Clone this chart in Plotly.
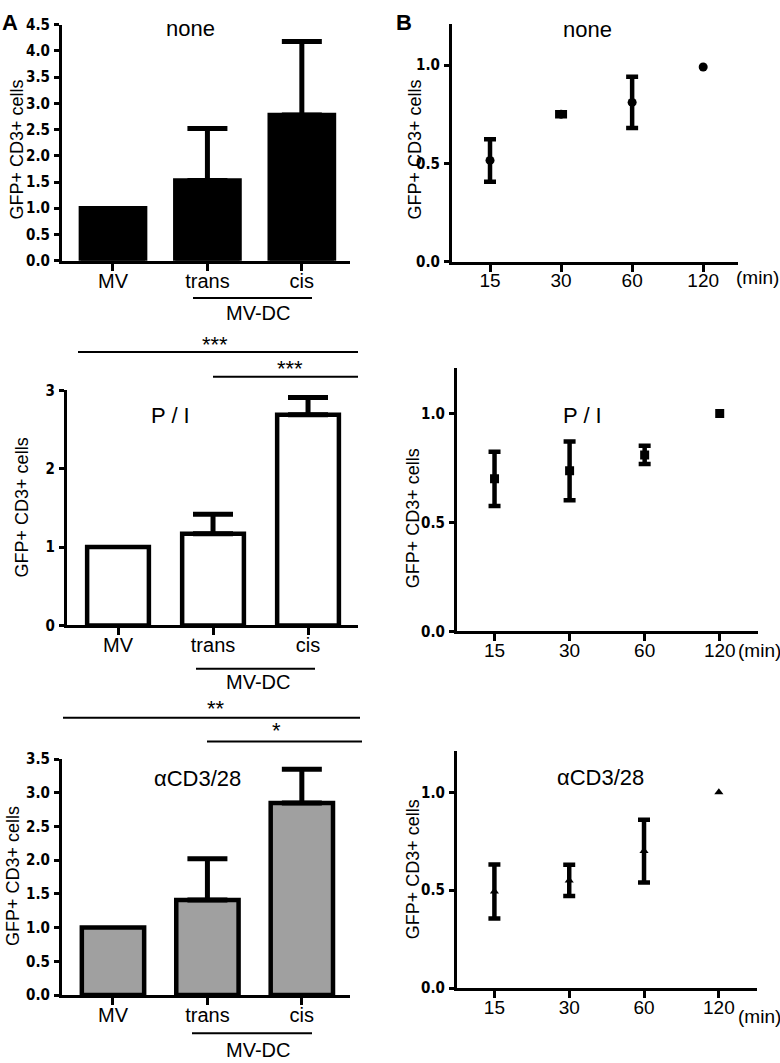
import plotly.graph_objects as go

W, H = 780, 1063

# ---------------- data ----------------
bar_categories = ["MV", "trans", "cis"]
none_values = [1.0, 1.53, 2.78]
none_errors = [None, 0.99, 1.40]
pi_values = [1.0, 1.17, 2.69]
pi_errors = [None, 0.25, 0.22]
cd_values = [1.0, 1.41, 2.85]
cd_errors = [None, 0.61, 0.50]

time_labels = ["15", "30", "60", "120"]
none_time_mean = [0.515, 0.75, 0.81, 0.99]
none_time_sem = [0.108, 0.01, 0.13, None]
pi_time_mean = [0.70, 0.737, 0.81, 1.0]
pi_time_sem = [0.125, 0.135, 0.042, None]
cd_time_mean = [0.494, 0.55, 0.70, 1.0]
cd_time_sem = [0.138, 0.08, 0.16, None]

none_ticks = [0, 0.5, 1.0, 1.5, 2.0, 2.5, 3.0, 3.5, 4.0, 4.5]
pi_ticks = [0, 1, 2, 3]
cd_ticks = [0, 0.5, 1.0, 1.5, 2.0, 2.5, 3.0, 3.5]
time_yticks = [0.0, 0.5, 1.0]

# ---------------- helpers ----------------
def px_x(a):
    return a / W

def px_y(b):
    return 1 - b / H

def dom_x(a, b):
    return [px_x(a), px_x(b)]

def dom_y(top, bottom):
    return [px_y(bottom), px_y(top)]

def split(xs, ys, es):
    with_err = [(x, y, e) for x, y, e in zip(xs, ys, es) if e is not None]
    without = [(x, y) for x, y, e in zip(xs, ys, es) if e is None]
    return with_err, without

NARROW = "Liberation Sans Narrow, DejaVu Sans Condensed, Arial Narrow, sans-serif"
SANS = "Liberation Sans, Arial, Helvetica, sans-serif"

fig = go.Figure()

# bar panels
bar_panels = [
    dict(vals=none_values, errs=none_errors, fill="black", width=0.68, ax="1"),
    dict(vals=pi_values, errs=pi_errors, fill="white", width=0.65, ax="2"),
    dict(vals=cd_values, errs=cd_errors, fill="rgb(160,160,160)", width=0.66, ax="3"),
]
for p in bar_panels:
    fig.add_trace(go.Bar(
        x=bar_categories, y=p["vals"], width=p["width"],
        marker=dict(color=p["fill"], line=dict(color="black", width=4.5)),
        xaxis="x" + p["ax"], yaxis="y" + p["ax"], showlegend=False,
    ))
    with_err, _ = split(bar_categories, p["vals"], p["errs"])
    fig.add_trace(go.Scatter(
        x=[w[0] for w in with_err], y=[w[1] for w in with_err], mode="markers",
        marker=dict(size=0.1, color="black", opacity=0),
        error_y=dict(type="data", symmetric=False, array=[w[2] for w in with_err],
                     arrayminus=[0] * len(with_err), color="black", thickness=5, width=20),
        xaxis="x" + p["ax"], yaxis="y" + p["ax"], showlegend=False, hoverinfo="skip",
    ))

# time-course panels
time_panels = [
    dict(mean=none_time_mean, sem=none_time_sem, symbol="circle", size=9, ax="4"),
    dict(mean=pi_time_mean, sem=pi_time_sem, symbol="square", size=9, ax="5"),
    dict(mean=cd_time_mean, sem=cd_time_sem, symbol="triangle-up", size=8, ax="6"),
]
for p in time_panels:
    with_err, without = split(time_labels, p["mean"], p["sem"])
    fig.add_trace(go.Scatter(
        x=[w[0] for w in with_err], y=[w[1] for w in with_err], mode="markers",
        marker=dict(color="black", symbol=p["symbol"], size=p["size"]),
        error_y=dict(type="data", array=[w[2] for w in with_err], color="black",
                     thickness=4.5, width=6),
        xaxis="x" + p["ax"], yaxis="y" + p["ax"], showlegend=False,
    ))
    fig.add_trace(go.Scatter(
        x=[w[0] for w in without], y=[w[1] for w in without], mode="markers",
        marker=dict(color="black", symbol=p["symbol"], size=p["size"]),
        xaxis="x" + p["ax"], yaxis="y" + p["ax"], showlegend=False,
    ))

common_axis = dict(showline=True, linecolor="black", linewidth=3, ticks="outside",
                   tickcolor="black", tickwidth=3, showgrid=False, zeroline=False,
                   fixedrange=True)
xfont_bar = dict(family=SANS, size=20, color="black")
xfont_time = dict(family=SANS, size=19, color="black")
yfont = dict(family=NARROW, size=15, color="black", weight="bold")

layout = dict(
    width=W, height=H, margin=dict(l=0, r=0, t=0, b=0),
    paper_bgcolor="white", plot_bgcolor="white", showlegend=False,
)

panel_geo = {
    "1": dict(x=(62, 350), y=(16, 256), yr=[0, 4.5], xr=[-0.54, 2.51], ticks=none_ticks, fmt=".1f", cats=bar_categories, xf=xfont_bar),
    "2": dict(x=(67, 358), y=(388, 627), yr=[0, 3], xr=[-0.537, 2.526], ticks=pi_ticks, fmt="d", cats=bar_categories, xf=xfont_bar),
    "3": dict(x=(62, 350), y=(763, 1003), yr=[0, 3.5], xr=[-0.54, 2.51], ticks=cd_ticks, fmt=".1f", cats=bar_categories, xf=xfont_bar),
    "4": dict(x=(452, 738), y=(15, 257), yr=[0, 1.21], xr=[-0.535, 3.49], ticks=time_yticks, fmt=".1f", cats=time_labels, xf=xfont_time),
    "5": dict(x=(457, 758), y=(365, 633), yr=[0, 1.21], xr=[-0.5, 3.51], ticks=time_yticks, fmt=".1f", cats=time_labels, xf=xfont_time),
    "6": dict(x=(457, 757), y=(755, 996), yr=[0, 1.21], xr=[-0.5, 3.51], ticks=time_yticks, fmt=".1f", cats=time_labels, xf=xfont_time),
}
for k, g in panel_geo.items():
    xname = "xaxis" if k == "1" else "xaxis" + k
    yname = "yaxis" if k == "1" else "yaxis" + k
    layout[xname] = dict(common_axis, domain=dom_x(*g["x"]), anchor="y" + k,
                         type="category", categoryorder="array", categoryarray=g["cats"],
                         range=g["xr"], ticklen=7, tickfont=g["xf"], ticklabelstandoff=-7)
    layout[yname] = dict(common_axis, domain=dom_y(*g["y"]), anchor="x" + k,
                         range=g["yr"], tickvals=g["ticks"], tickformat=g["fmt"],
                         ticklen=5, tickfont=yfont, ticklabelstandoff=1)
fig.update_layout(**layout)

# annotations
ann = []
def text(x, y, s, size=20, family=SANS, weight=None, angle=0):
    f = dict(family=family, size=size, color="black")
    if weight:
        f["weight"] = weight
    ann.append(dict(x=px_x(x), y=px_y(y), xref="paper", yref="paper", text=s,
                    showarrow=False, xanchor="center", yanchor="middle",
                    font=f, textangle=angle))

text(10, 14, "A", size=22, weight="bold")
text(404, 14, "B", size=22, weight="bold")

# panel titles
text(190, 20, "none", size=22)
text(170, 413, "P / I", size=22)
text(197, 783, "αCD3/28", size=22)
text(587, 21, "none", size=22)
text(582, 413, "P / I", size=22)
text(600, 782, "αCD3/28", size=22)

# y titles
for (x, y) in [(17, 143), (22, 507), (13, 882), (415, 143), (413, 518), (413, 875)]:
    text(x, y, "GFP+ CD3+ cells", size=18, angle=-90)

# (min) labels
for (x, y) in [(757, 273), (759, 653), (759, 1025)]:
    text(x, y, "(min)", size=19)

# MV-DC group labels
for y in [309, 685, 1059]:
    text(258, y, "MV-DC", size=20)

# significance stars
text(215, 341, "***", size=22)
text(290, 366, "***", size=22)
text(216, 712, "**", size=22)
text(276, 734, "*", size=22)

fig.update_layout(annotations=ann)

# lines
shapes = []
def hline(x0, x1, y, w=2):
    shapes.append(dict(type="line", xref="paper", yref="paper",
                       x0=px_x(x0), x1=px_x(x1), y0=px_y(y), y1=px_y(y),
                       line=dict(color="black", width=w)))

hline(193, 312, 294)
hline(196, 315, 671)
hline(192, 312, 1042)
hline(78, 358, 349)
hline(213, 358, 374)
hline(63, 360, 721)
hline(207, 362, 745)
fig.update_layout(shapes=shapes)

fig.write_html("out.html", config={"displayModeBar": False},
               post_script="document.body.style.margin='0px';document.body.style.overflow='hidden';")
